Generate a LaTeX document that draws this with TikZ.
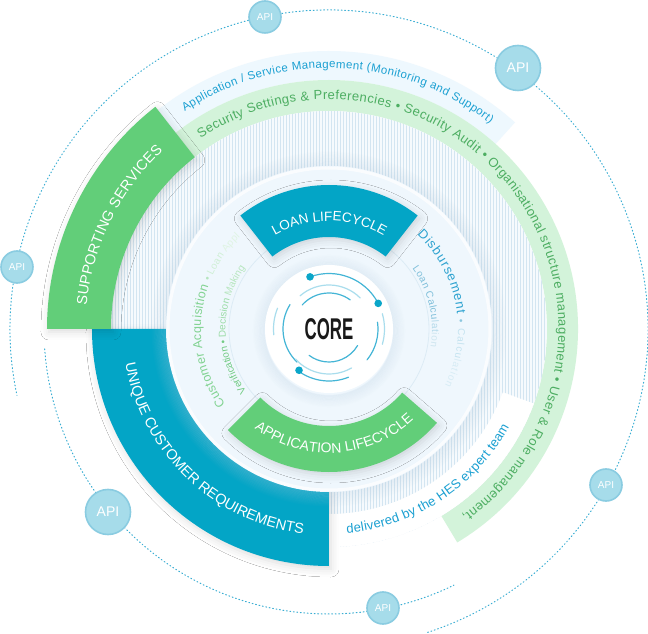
\documentclass[tikz,border=0pt]{standalone}
\usepackage{fontspec}
\setmainfont{Liberation Sans}
\usetikzlibrary{decorations.text,shadows.blur}
\definecolor{ucrblue}{HTML}{03A5C6}
\definecolor{ssgreen}{HTML}{62CE79}
\definecolor{bandgreen}{HTML}{D3F3DA}
\definecolor{bandblue}{HTML}{EEF8FE}
\definecolor{txtgreen}{HTML}{4DAE62}
\definecolor{txtblue}{HTML}{1BA0D2}
\definecolor{diskfill}{HTML}{EFF7FD}
\definecolor{diskline}{HTML}{DCEBF5}
\definecolor{stripebg}{HTML}{F6FAFD}
\definecolor{stripeln}{HTML}{D3E5F1}
\definecolor{orbit}{HTML}{3AAED3}
\definecolor{apifill}{HTML}{A6DCEA}
\definecolor{apiedge}{HTML}{8ACCE1}
\definecolor{arcA}{HTML}{43B5D6}
\definecolor{arcB}{HTML}{A9DDED}
\definecolor{coredot}{HTML}{0AA6C9}
\definecolor{haloc}{HTML}{B4CCDF}
\newcommand\annsect[5]{\fill[#1] (#2:#5) arc[start angle=#2,end angle=#3,radius=#5] -- (#3:#4) arc[start angle=#3,end angle=#2,radius=#4] -- cycle;}
\newcommand\curvetext[4]{\path[decorate,decoration={text along path,text align={fit to path},text={#4}}] (#1:#3) arc[start angle=#1,end angle=#2,radius=#3];}
\tikzset{
  orbitline/.style={draw=orbit, line width=1pt, dash pattern=on 0.9pt off 2.6pt, line cap=round},
  apibubble/.style={circle, fill=apifill, draw=apiedge, line width=1.6pt, inner sep=0pt, text=white},
  apibig/.style={apibubble, minimum size=45pt, font=\fontsize{14}{14}\selectfont},
  apismall/.style={apibubble, minimum size=32pt, font=\fontsize{10}{10}\selectfont},
  softshadow/.style={blur shadow={shadow xshift=2pt, shadow yshift=-3pt, shadow blur radius=8pt, shadow opacity=14}},
  arcline/.style={line width=1.2pt, line cap=round},
}
\begin{document}
\begin{tikzpicture}[x=1pt,y=1pt]
\fill[white] (-329,-305) rectangle (319,329);
\useasboundingbox (-329,-305) rectangle (319,329);

% orbits
\draw[orbitline] (-72:319) arc[start angle=-72,end angle=192,radius=319];
\draw[orbitline] (184:285) arc[start angle=184,end angle=296,radius=285];

% outer bands
\annsect{bandblue}{48}{140}{249}{278}
\annsect{bandgreen}{-59}{140}{218}{249}

% striped ring
\begin{scope}
  \clip (0,0) circle (218);
  \fill[stripebg] (-218,-218) rectangle (218,218);
  \foreach \x in {-217,-214,...,217} \draw[stripeln, line width=0.7pt] (\x,-218) -- (\x,218);
\end{scope}

% white band
\annsect{white}{-100}{-20}{185}{218}

% unique customer requirements and supporting services
\annsect{ucrblue,softshadow}{180}{270}{158}{237}
\annsect{ssgreen,softshadow}{128}{180}{218}{282}

% halo of light disk
\foreach \i in {0,...,11} {
  \pgfmathsetmacro\op{0.22-0.018*\i}
  \draw[haloc, opacity=\op, line width=1.3pt] (0,0) circle (163.6+\i*1.2);
}
\fill[diskfill] (0,0) circle (163);
\draw[white, line width=3pt, opacity=0.7] (0,0) circle (161);
\draw[diskline, line width=0.8pt] (0,0) circle (100);

% lifecycles
\annsect{ucrblue,softshadow}{52}{128}{92}{144}
\annsect{ssgreen,softshadow}{225}{319}{97}{143}

% inner texts
\curvetext{47}{-26}{129}{|\fontsize{13}{13}\selectfont\color[HTML]{2DA2D0}|Disbursement |\color[HTML]{8CC7DF}|• |\color[HTML]{C4E3F0}|Calcu|\color[HTML]{D7ECF5}|lation}
\curvetext{36}{-10}{103}{|\fontsize{10}{10}\selectfont\color[HTML]{7FBFDA}|Loan Calcu|\color[HTML]{B3D9EA}|lat|\color[HTML]{CFE6F0}|ion}
\curvetext{216}{134}{128}{|\fontsize{12.5}{12.5}\selectfont\color[HTML]{82D392}|Customer Acquisition |\color[HTML]{B5E5BE}|• |\color[HTML]{CFEFD5}|Loan |\color[HTML]{DFF4E3}|Appl}
\curvetext{217}{144}{103.5}{|\fontsize{10}{10}\selectfont\color[HTML]{72CB83}|Verification • |\color[HTML]{9BDCA7}|Decision |\color[HTML]{B7E6BF}|Making}

% block texts
\curvetext{120}{60.5}{108}{|\fontsize{13.5}{13.5}\selectfont\color{white}|LOAN LIFECYCLE}
\curvetext{233}{313}{124}{|\fontsize{14}{14}\selectfont\color{white}|APPLICATION LIFECYCLE}
\curvetext{174.5}{133}{243.5}{|\fontsize{14.5}{14.5}\selectfont\color{white}|SUPPORTING SERVICES}
\curvetext{189.5}{262.5}{206.5}{|\fontsize{14.5}{14.5}\selectfont\color{white}|UNIQUE CUSTOMER REQUIREMENTS}

% band texts
\curvetext{123.5}{52}{261}{|\fontsize{11.5}{11.5}\selectfont\color{txtblue}|Application / Service Management (Monitoring and Support)}
\curvetext{124}{-54.5}{229.5}{|\fontsize{13}{13}\selectfont\color{txtgreen}|Security Settings {\&} Preferencies • Security Audit • Organisational structure management • User {\&} Role management,}
\curvetext{-85}{-28.5}{205}{|\fontsize{13}{13}\selectfont\color{txtblue}|delivered by the HES expert team}

% core
\foreach \i in {0,...,9} {
  \pgfmathsetmacro\op{0.20-0.02*\i}
  \draw[haloc, opacity=\op, line width=1.3pt] (0,-2) circle (64.6+\i*1.2);
}
\fill[white] (0,0) circle (64);
\draw[arcA, arcline] (28:55.5) arc[start angle=28,end angle=110,radius=55.5];
\draw[arcB, arcline] (158:55.5) arc[start angle=158,end angle=186,radius=55.5];
\draw[arcB, arcline] (16:55.5) arc[start angle=16,end angle=-16,radius=55.5];
\draw[arcA, arcline] (234:52) arc[start angle=234,end angle=292,radius=52];
\draw[arcA, arcline] (148:46) arc[start angle=148,end angle=226,radius=46];
\draw[arcA, arcline] (8:49) arc[start angle=8,end angle=-39,radius=49];
\draw[arcB, arcline] (45:44) arc[start angle=45,end angle=131,radius=44];
\draw[arcB, arcline] (222:45) arc[start angle=222,end angle=300,radius=45];
\draw[arcA, arcline] (54:36) arc[start angle=54,end angle=138,radius=36];
\draw[arcA, arcline] (233:33) arc[start angle=233,end angle=330,radius=33];
\fill[coredot] (110:55.5) circle (3.8);
\fill[coredot] (27.5:55.5) circle (3.8);
\fill[coredot] (234:51) circle (3.8);
\node[font=\bfseries\fontsize{30}{30}\selectfont, text=black!90, inner sep=0pt] (core) at (0,0) {\scalebox{0.56}[1]{CORE}};

% API bubbles
\node[apismall] (api1) at (-64,312) {API};
\node[apibig] (api2) at (189,261) {API};
\node[apismall] (api3) at (-312,62) {API};
\node[apibig] (api4) at (-221,-183) {API};
\node[apismall] (api5) at (54,-279) {API};
\node[apismall] (api6) at (277,-156) {API};
\end{tikzpicture}
\end{document}
